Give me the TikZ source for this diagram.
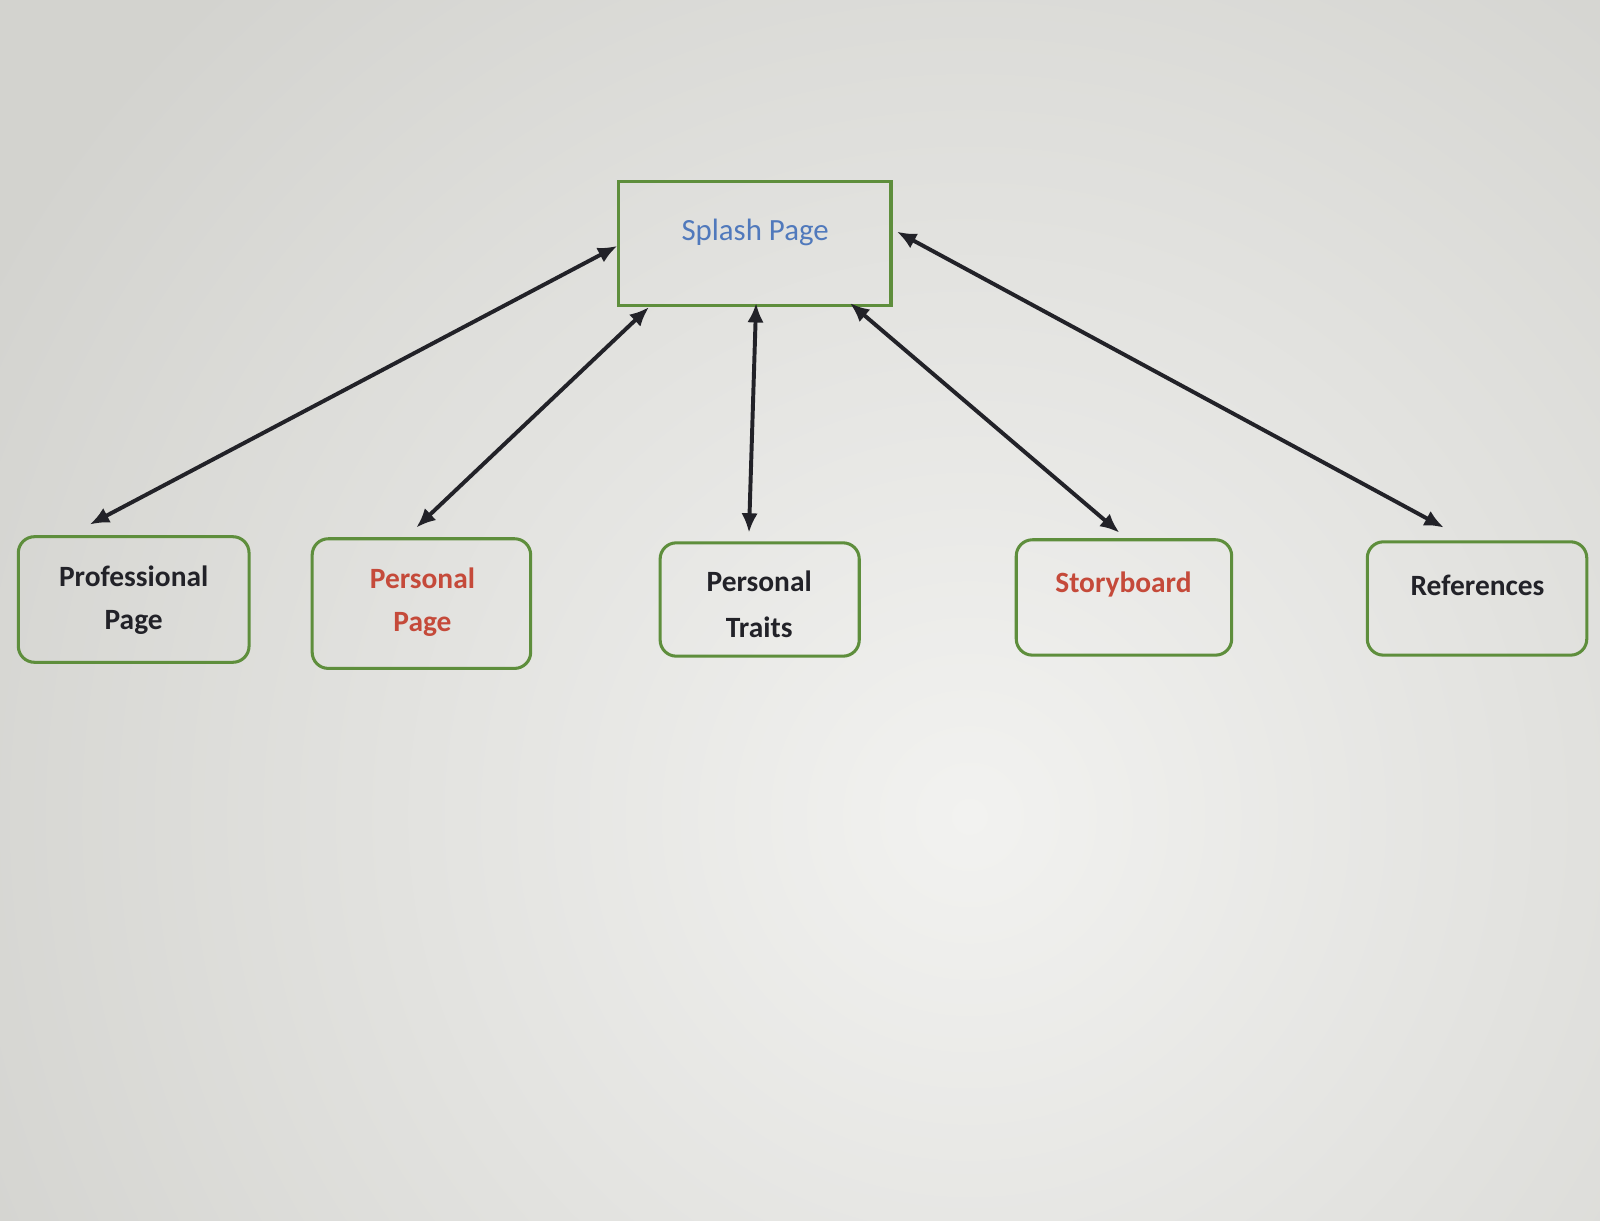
\documentclass[tikz,border=0pt]{standalone}
\usepackage{fontspec}
\setmainfont{Carlito}
\usetikzlibrary{arrows.meta}
\definecolor{boxgreen}{HTML}{5E8E3C}
\definecolor{txtred}{HTML}{C54A3A}
\definecolor{txtblue}{HTML}{5079BC}
\definecolor{txtdark}{HTML}{222228}
\definecolor{bgin}{HTML}{F2F2F0}
\definecolor{bgout}{HTML}{D3D3CF}
\tikzset{
  rbox/.style={draw=boxgreen, line width=0.85pt, rounded corners=4.5pt, inner sep=0pt},
  sbox/.style={draw=boxgreen, line width=0.9pt, inner sep=0pt},
  lbl/.style={font=\fontsize{8.2}{10}\selectfont\bfseries, text=txtdark, inner sep=0pt},
  conn/.style={line width=1.1pt, draw=txtdark, {Latex[length=5.4pt,width=4.6pt]}-{Latex[length=5.4pt,width=4.6pt]}}
}
\begin{document}
\begin{tikzpicture}[x=0.01cm,y=-0.01cm]
\useasboundingbox (0,0) rectangle (1568,1196);
\begin{scope}
\clip (0,0) rectangle (1568,1196);
\fill[bgout] (0,0) rectangle (1568,1196);
\shade[inner color=bgin, outer color=bgout] (950,800) circle (11cm);
\end{scope}
% boxes
\node[sbox, minimum width=2.67cm, minimum height=1.21cm] (splash) at (739.5,238.5) {};
\node[rbox, minimum width=2.26cm, minimum height=1.23cm] (prof) at (131,587.5) {};
\node[rbox, minimum width=2.14cm, minimum height=1.27cm] (pers) at (413,591.5) {};
\node[rbox, minimum width=1.95cm, minimum height=1.11cm] (trait) at (744.5,587.5) {};
\node[rbox, minimum width=2.11cm, minimum height=1.13cm] (story) at (1101.5,585.5) {};
\node[rbox, minimum width=2.15cm, minimum height=1.11cm] (refs) at (1447.5,586.5) {};
% labels
\node[inner sep=0pt, text=txtblue, font=\fontsize{8.6}{10}\selectfont] (tsplash) at (740,228) {Splash Page};
\node[lbl] (tprof1) at (131,565) {Professional};
\node[lbl] (tprof2) at (131,610) {Page};
\node[lbl, text=txtred] (tpers1) at (414,567) {Personal};
\node[lbl, text=txtred] (tpers2) at (414,612) {Page};
\node[lbl] (ttrait1) at (744,570) {Personal};
\node[lbl] (ttrait2) at (744,615) {Traits};
\node[lbl, text=txtred] (tstory) at (1101,573) {Storyboard};
\node[lbl] (trefs) at (1448,574) {References};
% connector ends
\coordinate (s1) at (605,241);  \coordinate (e1) at (88,514);
\coordinate (s2) at (636,301);  \coordinate (e2) at (408,517);
\coordinate (s3) at (741,297);  \coordinate (e3) at (734,522);
\coordinate (s4) at (833,297);  \coordinate (e4) at (1097,522);
\coordinate (s5) at (879,227);  \coordinate (e5) at (1415,517);
\draw[conn] (s1) -- (e1);
\draw[conn] (s2) -- (e2);
\draw[conn] (s3) -- (e3);
\draw[conn] (s4) -- (e4);
\draw[conn] (s5) -- (e5);
\end{tikzpicture}
\end{document}
